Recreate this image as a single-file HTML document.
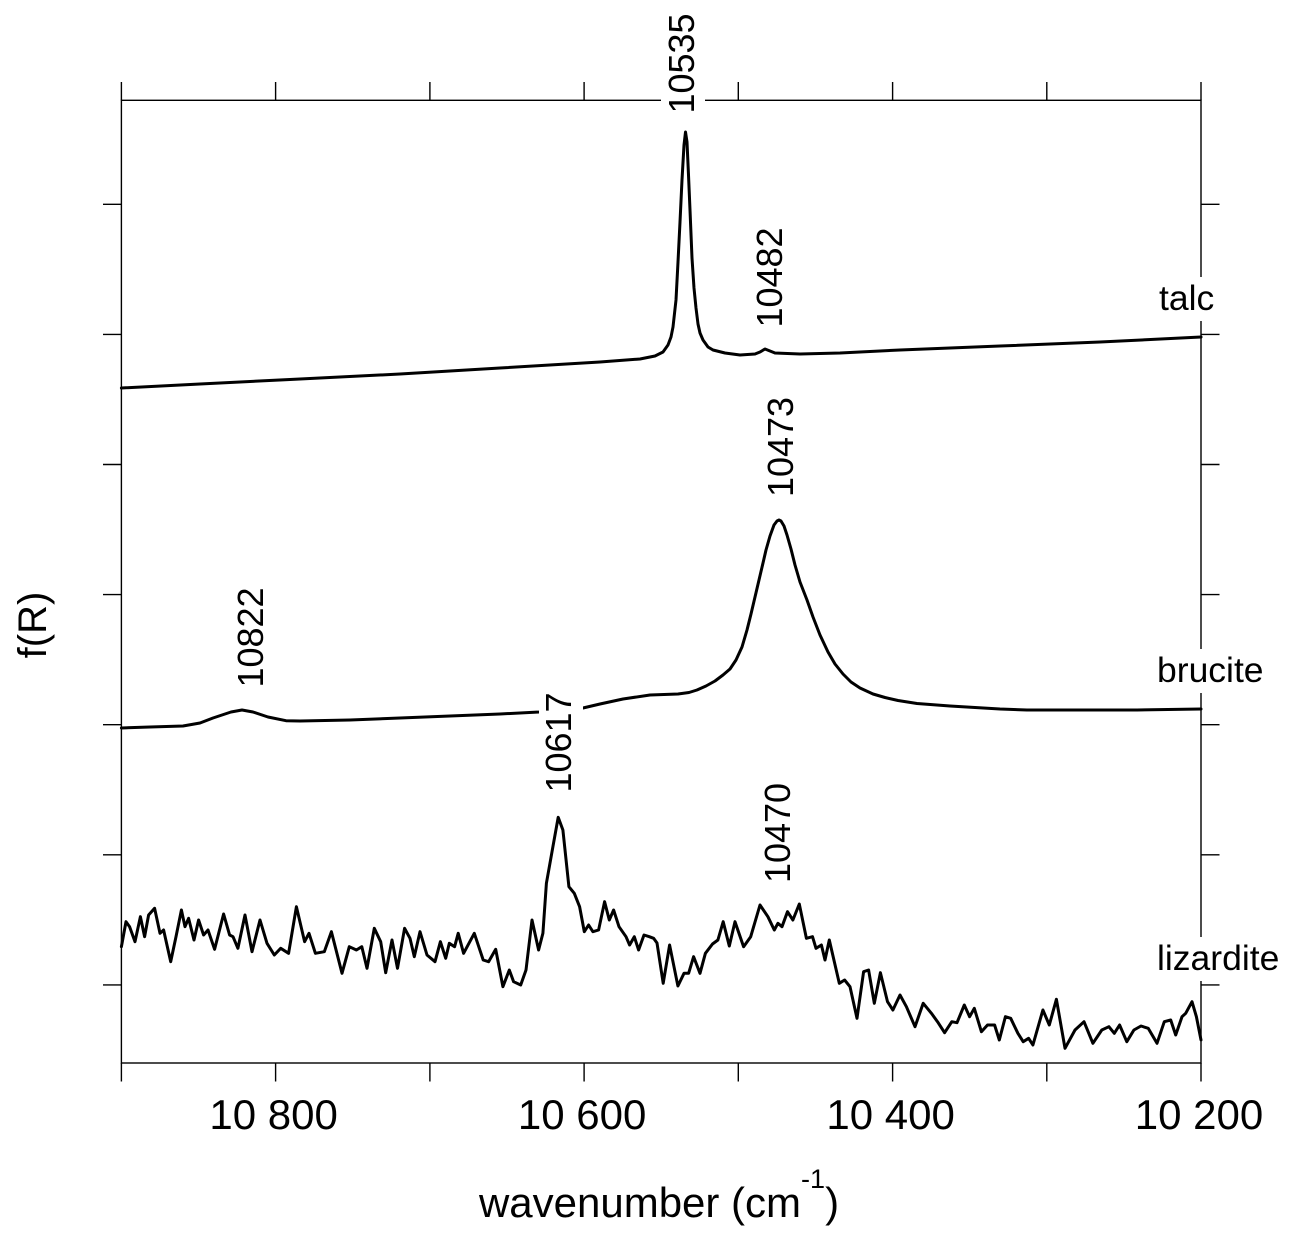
<!DOCTYPE html>
<html>
<head>
<meta charset="utf-8">
<style>
html,body{margin:0;padding:0;background:#fff;}
svg{display:block;}
text{font-family:"Liberation Sans",Arial,sans-serif;fill:#000;}
</style>
</head>
<body>
<svg width="1294" height="1238" viewBox="0 0 1294 1238" xmlns="http://www.w3.org/2000/svg">
<rect width="1294" height="1238" fill="#fff"/>
<!-- axes frame -->
<g stroke="#000" stroke-width="1.4" fill="none">
<rect x="121.4" y="100.3" width="1079.6" height="962.7"/>
<path d="M121.4 100.3V82 M275.6 100.3V82 M429.9 100.3V82 M584.1 100.3V82 M738.3 100.3V82 M892.6 100.3V82 M1046.8 100.3V82 M1201 100.3V82"/>
<path d="M121.4 1063V1081.5 M275.6 1063V1081.5 M429.9 1063V1081.5 M584.1 1063V1081.5 M738.3 1063V1081.5 M892.6 1063V1081.5 M1046.8 1063V1081.5 M1201 1063V1081.5"/>
<path d="M121.4 204.3H103 M121.4 334.4H103 M121.4 464.5H103 M121.4 594.6H103 M121.4 724.7H103 M121.4 854.8H103 M121.4 984.9H103"/>
<path d="M1201 204.3H1219.5 M1201 334.4H1219.5 M1201 464.5H1219.5 M1201 594.6H1219.5 M1201 724.7H1219.5 M1201 854.8H1219.5 M1201 984.9H1219.5"/>
</g>

<g stroke="#000" stroke-width="3" fill="none" stroke-linejoin="round" stroke-linecap="round">
<!-- talc -->
<polyline points="121.4,388 200,384 300,379 400,374 500,368 600,362 640,359 655,356 663,352 668,345 671,337 673,327 676,300 678,262 680,222 682,180 684,145 685.5,132 687,142 688.5,175 690,210 692,258 694,288 696,308 698,324 700,333 703,340 708,347 713,350 725,353 740,355 755,354 760,352 765,349 770,351 775,353 800,354 840,353 900,350 1000,346 1100,342 1201,337"/>
<!-- brucite -->
<polyline points="121.4,728 150,727 183,726 200,723 213,718 231,712 242,710 253,712 268,717 286,720.7 300,721 350,720 400,718 450,716 500,714 539,712 583,708 600,704 623,699 650,695 678,694 689,692.5 697,690 706,686 715,681 723,675 730,669 736,660 742,647 747,630 751,614 755,597 759,580 763,563 766,550 770,536 774,525 777,521 779,520 781,521 784,526 787,535 791,549 795,565 800,582 807,600 813,617 820,635 828,652 835,664 843,674 851,682 860,688 873,694 885,697.5 898,700.5 917,703.5 950,706 1000,709 1027,710 1137,710 1201,709"/>
<!-- lizardite -->
<polyline points="121.4,946.7 126,921.7 129.6,926.7 135,941.7 140.4,916.7 144.6,936.7 148.6,915 154.6,908.3 160,933.3 163.6,930 170.7,961.7 176,936.7 181.4,910 185,926.7 188.6,918.3 194,940 198.6,920 203.6,935 208,930 214.6,949.3 223.6,914 229.6,935 233,936.7 237.9,948.3 245,915 252,951.7 260,920 267,943.3 274.3,955 280.7,948.3 288.6,953.3 296.4,906.7 304.6,941.7 309,933.3 315.4,953.3 324.3,951.7 331.4,931.7 342,973.3 349.3,946.7 356.4,950 361.8,946.7 367,968.3 374.3,928.3 380.7,941.7 385.7,972.7 392,940 397.5,968.3 404.6,928.3 410,938.3 414.3,956.7 420,931.7 427,955 435,961.7 440.4,941.7 445.7,958.3 449.3,943.3 454.6,946.7 458.2,933.3 463.6,953.3 474.3,933.3 483.2,960 488.6,961.7 495.7,949.3 502.9,986.7 509.3,970 513.6,981.7 520.7,985 526,970 532,920 538.6,950 542.9,933.3 546.4,883.3 552.9,846.7 558.2,817.3 562.9,830 568.9,886.7 574.3,893.3 579.6,906.7 584.3,931.7 588.6,925 592.9,931.7 598.6,930 604.6,901.7 609.3,920 613.6,910 619,926.7 626,936.7 629.6,945 634.3,936.7 638.6,950 644,935 649.3,936.7 653.6,938.3 657,943 663.2,983.3 669.6,945 677.9,986 684,973.3 688.6,973.3 693.6,956.7 700,973.3 705.4,953.3 712.5,944 717.9,940 723.2,921.7 729.3,946 735,921.7 743.6,946.7 750.7,936.7 760,905 767.9,916.7 774.3,930 777.9,923.3 782,926.7 787.5,911.7 792.9,920 799.3,904 806.4,938.3 812.5,936.7 816,948.3 821.4,945 825,960 829.3,940 839.3,983.3 844.6,980 850,986.7 857,1018.3 863.6,971.7 868.6,970 874.3,1003.3 880.4,972.7 887.5,1001.7 892.9,1010 900,995 906.4,1006.7 915,1026.7 923.2,1003.3 931.4,1013.3 937.5,1021.7 944.6,1032.7 951.8,1021.7 957,1022.7 964.3,1005 969.6,1016.7 974.3,1008.3 981.4,1031.7 987.5,1025 994.6,1025 999.3,1040 1005.4,1016.7 1010.7,1018.3 1017.9,1033.3 1023.2,1041.7 1028.6,1038.3 1032.9,1045 1042.9,1010 1049.3,1025 1056.4,999.3 1065,1048.3 1075,1030 1084,1021.7 1092.9,1043.3 1101.8,1030 1108.9,1026.7 1114.3,1033.3 1119.6,1025 1126.8,1041.7 1133.9,1030 1141,1026 1148.2,1028.3 1157,1043.3 1164.3,1021.7 1170.7,1020 1175.7,1035 1182,1016.7 1185.7,1013.3 1192,1001.7 1196.4,1016.7 1201,1040"/>
</g>

<!-- white boxes behind labels -->
<g fill="#fff" stroke="none">
<rect x="661" y="10" width="44" height="106"/>
<rect x="539" y="689" width="44" height="107"/>
<rect x="1150" y="277" width="80" height="44"/>
<rect x="1150" y="649" width="120" height="44"/>
<rect x="1150" y="937" width="140" height="44"/>
</g>

<!-- rotated peak labels -->
<g font-size="36" text-anchor="middle">
<text transform="translate(694,63.5) rotate(-90)">10535</text>
<text transform="translate(782,277.5) rotate(-90)">10482</text>
<text transform="translate(793,447) rotate(-90)">10473</text>
<text transform="translate(263,637.5) rotate(-90)">10822</text>
<text transform="translate(571,742.5) rotate(-90)">10617</text>
<text transform="translate(790,833) rotate(-90)">10470</text>
</g>

<!-- curve names -->
<g font-size="35.5">
<text x="1159" y="310">talc</text>
<text x="1157" y="682">brucite</text>
<text x="1157" y="970">lizardite</text>
</g>

<!-- tick labels -->
<g font-size="42" text-anchor="middle">
<text x="273.6" y="1129">10 800</text>
<text x="582.1" y="1129">10 600</text>
<text x="890.6" y="1129">10 400</text>
<text x="1199" y="1129">10 200</text>
</g>

<!-- axis titles -->
<text x="659" y="1217" font-size="42" text-anchor="middle">wavenumber (cm<tspan font-size="27" dy="-29">-1</tspan><tspan dy="29">)</tspan></text>
<text transform="translate(46,625) rotate(-90)" font-size="40" text-anchor="middle">f(R)</text>
</svg>
</body>
</html>
